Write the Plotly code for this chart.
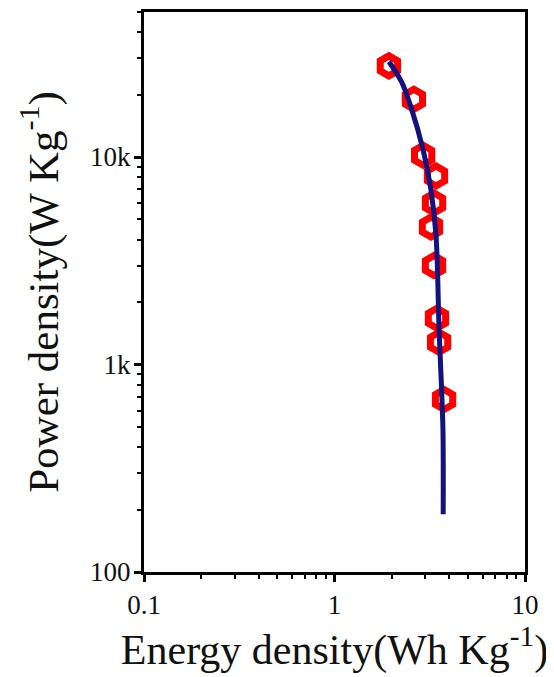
import plotly.graph_objects as go

# measured points
energy = [1.93, 2.61, 2.92, 3.41, 3.33, 3.21, 3.33, 3.45, 3.54, 3.76]
power = [27500, 19000, 10200, 8100, 6000, 4600, 3000, 1670, 1280, 678]

# fitted curve
fit_energy = [1.93, 2.25, 2.52, 2.92, 3.21, 3.41, 3.54, 3.64, 3.71, 3.72]
fit_power = [28800, 23000, 17400, 10800, 6930, 4200, 1460, 800, 480, 190]

x_ticks = [0.1, 1, 10]
x_ticktext = ["0.1", "1", "10"]
y_ticks = [100, 1000, 10000]
y_ticktext = ["100", "1k", "10k"]

x_minor = [m * d for d in (0.1, 1) for m in range(2, 10)]
y_minor = [m * d for d in (100, 1000, 10000) for m in range(2, 10)]

font_family = "Liberation Serif"

fig = go.Figure()
fig.add_trace(go.Scatter(
    x=energy, y=power, mode="markers",
    marker=dict(symbol="hexagon-open", size=20, color="#ff0000",
                line=dict(color="#ff0000", width=7)),
    showlegend=False,
))
fig.add_trace(go.Scatter(
    x=fit_energy, y=fit_power, mode="lines",
    line=dict(color="#13137f", width=5, shape="spline"),
    showlegend=False,
))

axis_common = dict(
    type="log", showline=True, linecolor="black", linewidth=3, mirror=True,
    ticks="outside", ticklen=7, tickwidth=3, tickcolor="black",
    showgrid=False, zeroline=False, automargin=False,
    tickfont=dict(family=font_family, size=27, color="#111"),
)

fig.update_layout(
    width=554, height=677,
    margin=dict(l=136, r=37, t=4, b=113),
    paper_bgcolor="white", plot_bgcolor="white",
    xaxis=dict(axis_common, range=[-1, 1],
               tickvals=x_ticks, ticktext=x_ticktext,
               minor=dict(ticks="outside", ticklen=4, tickwidth=2, tickcolor="black",
                          tickvals=x_minor, showgrid=False),
               title=dict(text="Energy density(Wh Kg<sup>-1</sup>)",
                          font=dict(family=font_family, size=42, color="#111"),
                          standoff=3)),
    yaxis=dict(axis_common, range=[2, 4.699],
               tickvals=y_ticks, ticktext=y_ticktext, ticklabelstandoff=-2,
               minor=dict(ticks="outside", ticklen=4, tickwidth=2, tickcolor="black",
                          tickvals=y_minor, showgrid=False),
               title=dict(text="Power density(W Kg<sup>-1</sup>)",
                          font=dict(family=font_family, size=43, color="#111"),
                          standoff=19)),
)

fig.write_html("out.html")
